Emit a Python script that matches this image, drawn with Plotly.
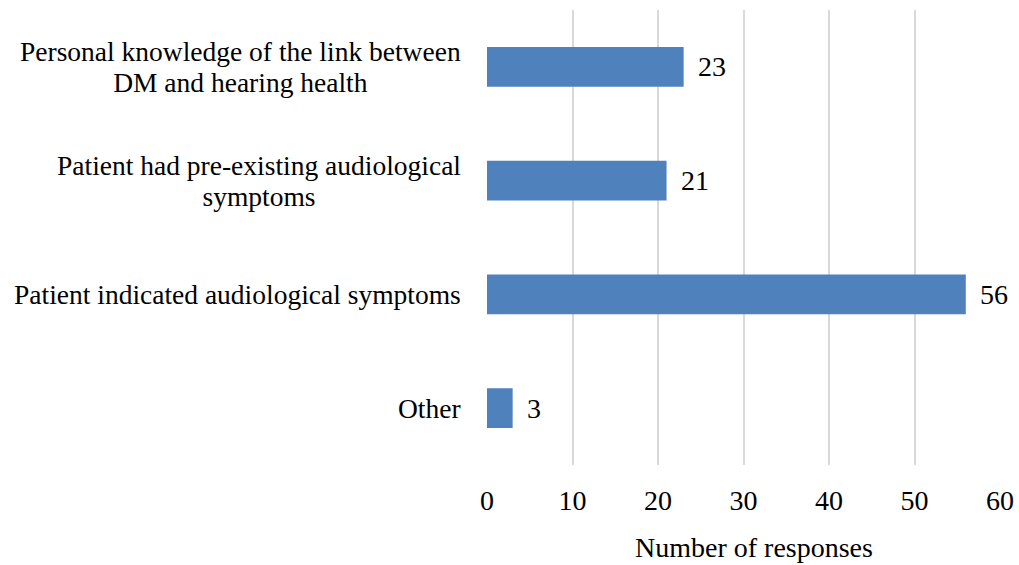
import plotly.graph_objects as go

categories = [
    "Other",
    "Patient indicated audiological symptoms",
    "Patient had pre-existing audiological\nsymptoms",
    "Personal knowledge of the link between\nDM and hearing health",
]
values = [3, 56, 21, 23]
x_ticks = [0, 10, 20, 30, 40, 50, 60]
x_title = "Number of responses"

FONT = "Liberation Serif, Times New Roman, serif"
BAR_COLOR = "#4F81BD"
FS = 28
FS_CAT = 27.5

fig = go.Figure(
    go.Bar(
        x=values,
        y=categories,
        orientation="h",
        marker=dict(color=BAR_COLOR, line=dict(width=0)),
        width=0.35,
        hoverinfo="skip",
    )
)

annotations = []
# data labels
for c, v in zip(categories, values):
    annotations.append(dict(
        x=v, y=c, xref="x", yref="y", text=str(v), showarrow=False,
        xanchor="left", yanchor="middle", xshift=12,
        font=dict(family=FONT, size=FS, color="#000000"),
    ))

# category labels: right-aligned block, lines centered; base font 24 gives ~31px line pitch
for c in categories:
    lines = c.split("\n")
    txt = "<br>".join("<span style='font-size:%spx'>%s</span>" % (FS_CAT, ln) for ln in lines)
    annotations.append(dict(
        x=0, y=c, xref="paper", yref="y", text=txt, showarrow=False,
        xanchor="right", yanchor="middle", align="center", xshift=-24,
        font=dict(family=FONT, size=24, color="#000000"),
    ))

# axis title
annotations.append(dict(
    x=0.5, y=0, xref="paper", yref="paper", text=x_title, showarrow=False,
    xanchor="center", yanchor="middle", xshift=10, yshift=-82,
    font=dict(family=FONT, size=FS, color="#000000"),
))

fig.update_layout(
    width=1019, height=565,
    margin=dict(l=487, r=19, t=10, b=100, autoexpand=False),
    paper_bgcolor="white", plot_bgcolor="white",
    showlegend=False,
    annotations=annotations,
    font=dict(family=FONT, size=FS, color="#000000"),
)
fig.update_xaxes(
    range=[0, 60], tickvals=x_ticks, ticktext=[str(t) for t in x_ticks],
    showgrid=True, gridcolor="#D9D9D9", gridwidth=2,
    zeroline=False, showline=False, ticks="", automargin=False,
    ticklabelstandoff=16,
    tickfont=dict(family=FONT, size=FS, color="#000000"),
)
fig.update_yaxes(
    categoryorder="array", categoryarray=categories, automargin=False,
    showticklabels=False, showgrid=False, zeroline=False, showline=False, ticks="",
)

fig.write_html(
    "out.html",
    config={"displayModeBar": False},
    post_script="document.body.style.margin='0';document.body.style.overflow='hidden';",
)
